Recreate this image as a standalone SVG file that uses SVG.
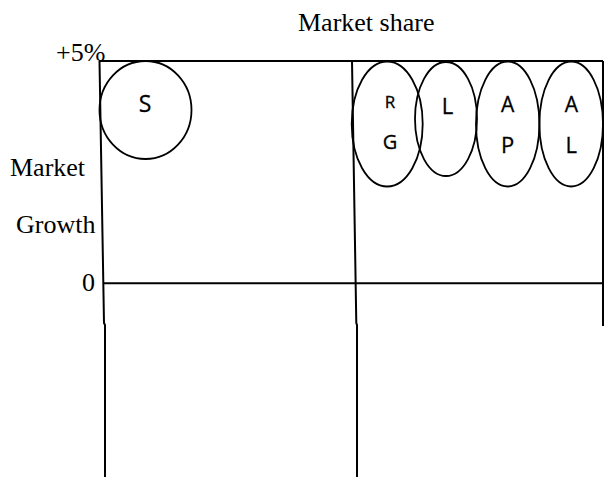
<svg xmlns="http://www.w3.org/2000/svg" width="604" height="477" viewBox="0 0 604 477">
<style>
.ln{fill:none;stroke:#000;stroke-width:2}
.sh{fill:none;stroke:#000;stroke-width:1.8}
.t{font-family:"Liberation Serif","Times New Roman",serif;font-size:26px;fill:#000}
.s{font-family:"Open Sans","Liberation Sans",sans-serif;fill:#000;text-anchor:middle;stroke:#000;stroke-width:0.3}
</style>
<rect width="604" height="477" fill="#fff"/>
<g id="labels">
<text class="t" x="298" y="31">Market share</text>
<text class="t" x="56" y="61">+5%</text>
<text class="t" x="10" y="176">Market</text>
<text class="t" x="16" y="233">Growth</text>
<text class="t" x="82" y="291">0</text>
</g>
<g id="connectors">
<line class="ln" x1="99" y1="61" x2="603" y2="61"/>
<line class="ln" x1="104" y1="283.3" x2="603" y2="283.3"/>
<polyline class="ln" points="99.5,61 104,323 105,325 105,477"/>
<polyline class="ln" points="352,61 356.3,323 357,325 357,477"/>
<line class="ln" x1="603" y1="61" x2="603" y2="326"/>
</g>
<g id="node-S">
<ellipse class="sh" cx="145.5" cy="110" rx="46" ry="49"/>
<text class="s" x="145" y="112" font-size="23">S</text>
</g>
<g id="node-RG">
<ellipse class="sh" cx="387.2" cy="124" rx="35.5" ry="62.5"/>
<text class="s" x="390" y="108.3" font-size="17">R</text>
<text class="s" x="390" y="149.3" font-size="20">G</text>
</g>
<g id="node-L">
<ellipse class="sh" cx="446" cy="119" rx="31" ry="57"/>
<text class="s" x="447.5" y="114.3" font-size="22">L</text>
</g>
<g id="node-AP">
<ellipse class="sh" cx="507.7" cy="124" rx="31.7" ry="62.5"/>
<text class="s" x="507.7" y="112.3" font-size="21">A</text>
<text class="s" x="507.7" y="153.3" font-size="22">P</text>
</g>
<g id="node-AL">
<ellipse class="sh" cx="571.2" cy="124" rx="31.8" ry="62.5"/>
<text class="s" x="571.3" y="112.3" font-size="21">A</text>
<text class="s" x="571.3" y="153.3" font-size="22">L</text>
</g>
</svg>
